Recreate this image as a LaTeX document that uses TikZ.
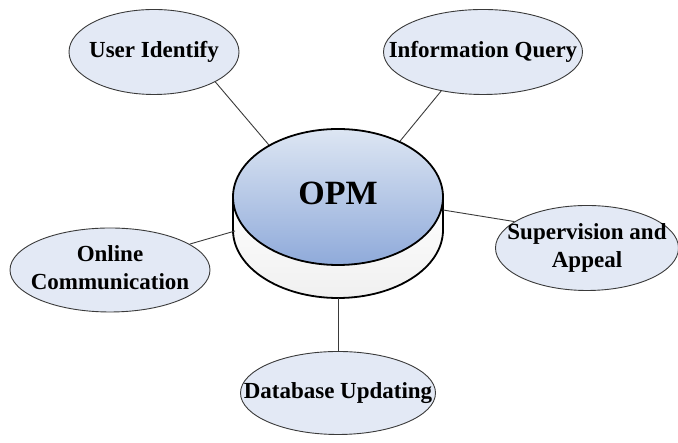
\documentclass[tikz,border=0pt]{standalone}
\usepackage{fontspec}
\setmainfont{Liberation Serif}
\usetikzlibrary{shapes.geometric}
\definecolor{bubble}{HTML}{E3E9F5}
\definecolor{toplight}{HTML}{DDE6F3}
\definecolor{topdark}{HTML}{8FAADA}
\definecolor{linegray}{HTML}{3A3A3A}
\newcommand{\zerowd}[1]{\makebox[0pt]{\begin{tabular}{@{}c@{}}#1\end{tabular}}}
\tikzset{
  bubble/.style={ellipse, draw=linegray, line width=0.9pt, fill=bubble, inner sep=0pt,
    font=\fontsize{23}{28}\selectfont\bfseries},
  conn/.style={draw=linegray, line width=0.9pt},
}
\begin{document}
\begin{tikzpicture}[x=1pt,y=1pt]
\useasboundingbox (0,0) rectangle (678,443);
% cylinder side
\path[draw=black, line width=1.8pt, top color=white, bottom color=gray!12]
  (233,246) -- (233,213) arc[start angle=180, end angle=360, x radius=105pt, y radius=68pt]
  -- (443,246) -- cycle;
\coordinate (sideR) at (443,233);
\coordinate (sideL) at (235,212);
\coordinate (cylB) at (338,145);
% cylinder top
\node[ellipse, draw=black, line width=1.8pt, top color=toplight, bottom color=topdark,
  minimum width=210pt, minimum height=136pt, inner sep=0pt,
  font=\fontsize{34}{36}\selectfont\bfseries] (opm) at (338,246) {\zerowd{OPM}};
% bubbles
\node[bubble, minimum width=170pt, minimum height=85pt] (ui) at (154,391) {\zerowd{User Identify}};
\node[bubble, minimum width=199pt, minimum height=85pt] (iq) at (483,391) {\zerowd{Information Query}};
\node[bubble, minimum width=183pt, minimum height=85pt] (sa) at (587,195) {\zerowd{Supervision and\\Appeal}};
\node[bubble, minimum width=200pt, minimum height=84pt] (oc) at (110,173) {\zerowd{Online\\Communication}};
\node[bubble, minimum width=195pt, minimum height=83pt] (du) at (338,50) {\zerowd{Database Updating}};
% connectors
\draw[conn] (ui.-26) -- (opm.143);
\draw[conn] (iq.223) -- (opm.42);
\draw[conn] (sideR) -- (sa.160);
\draw[conn] (oc.18) -- (sideL);
\draw[conn] (cylB) -- (du.north);
\end{tikzpicture}
\end{document}
